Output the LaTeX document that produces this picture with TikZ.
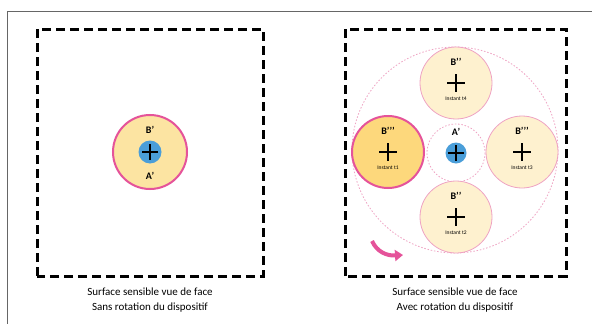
\documentclass[tikz,border=0pt]{standalone}
\usepackage{fontspec}
\setmainfont{Carlito}
\usetikzlibrary{arrows.meta,calc}
\definecolor{pinkb}{HTML}{E5539A}
\definecolor{pinkd}{HTML}{EFA3C3}
\definecolor{fillA}{HTML}{FCE4A2}
\definecolor{fillT}{HTML}{FDD87C}
\definecolor{fillP}{HTML}{FEF1CF}
\definecolor{blueC}{HTML}{4A9ED9}
\definecolor{frameg}{HTML}{666666}
\tikzset{
  dbox/.style={line width=3pt, dash pattern=on 9pt off 5pt, black},
  mainc/.style={circle, draw=pinkb, line width=2pt, fill=fillA, minimum size=74pt, inner sep=0pt},
  posT/.style={circle, draw=pinkb, line width=2pt, fill=fillT, minimum size=72pt, inner sep=0pt},
  posP/.style={circle, draw=pinkd, line width=0.8pt, fill=fillP, minimum size=72pt, inner sep=0pt},
  bluec/.style={circle, fill=blueC, minimum size=23pt, inner sep=0pt},
  dotc/.style={draw=pinkd, line width=0.8pt, dash pattern=on 1.5pt off 1.8pt},
  blab/.style={font=\bfseries\fontsize{10}{11}\selectfont, inner sep=0pt},
  ilab/.style={font=\fontsize{5.5}{6}\selectfont, inner sep=0pt},
  captxt/.style={font=\fontsize{11}{15}\selectfont, align=center, inner sep=0pt},
  plusm/.style={line width=2pt, black}
}
\newcommand{\plusat}[2]{\draw[plusm] ($(#1)+(-#2,0)$) -- ($(#1)+(#2,0)$); \draw[plusm] ($(#1)+(0,-#2)$) -- ($(#1)+(0,#2)$);}
\begin{document}
\begin{tikzpicture}[x=1pt,y=-1pt]
\useasboundingbox (0,0) rectangle (592,324);
\fill[white] (0,0) rectangle (592,324);
% outer frame
\draw[frameg, line width=0.9pt] (7,330) -- (7,11) -- (600,11);
% dashed boxes
\draw[dbox] (37,276) -- (37,29) -- (263,29) -- (263,276) -- cycle;
\draw[dbox] (345,276) -- (345,29) -- (566,29) -- (566,276) -- cycle;
% left panel
\node[mainc] (L) at (150,152) {};
\node[bluec] (Lb) at (150,152) {};
\plusat{Lb}{8}
\node[blab] (LB) at (150,130) {B’};
\node[blab] (LA) at (150,176) {A’};
% right panel
\coordinate (C) at (455,150);
\draw[dotc] (C) circle (103);
\draw[dotc] (456,153) circle (29);
\node[posP] (P4) at (456,83) {};
\node[posP] (P2) at (456,217) {};
\node[posP] (P3) at (522,152) {};
\node[posT] (P1) at (388,152) {};
\node[bluec, minimum size=21pt] (Rb) at (456,153) {};
\plusat{Rb}{8}
\node[blab] (RA) at (456,132) {A’};
\foreach \n/\lab/\ins in {P4/B’’/t4, P2/B’’/t2, P3/B’’’/t3, P1/B’’’/t1}{
  \node[blab] at ($(\n)+(0,-21)$) {\lab};
  \plusat{\n}{9}
  \node[ilab] at ($(\n)+(0,16)$) {Instant \ins};
}
% rotation arrow
\coordinate (a1) at (372,241);
\coordinate (a2) at (403,255);
\draw[pinkb, line width=4pt, -{Triangle[length=8pt,width=11pt]}] (a1) .. controls (377,252) and (387,256) .. (a2);
% captions
\node[captxt] (cL) at (150,300.5) {Surface sensible vue de face\\Sans rotation du dispositif};
\node[captxt] (cR) at (455,300.5) {Surface sensible vue de face\\Avec rotation du dispositif};
\end{tikzpicture}
\end{document}
